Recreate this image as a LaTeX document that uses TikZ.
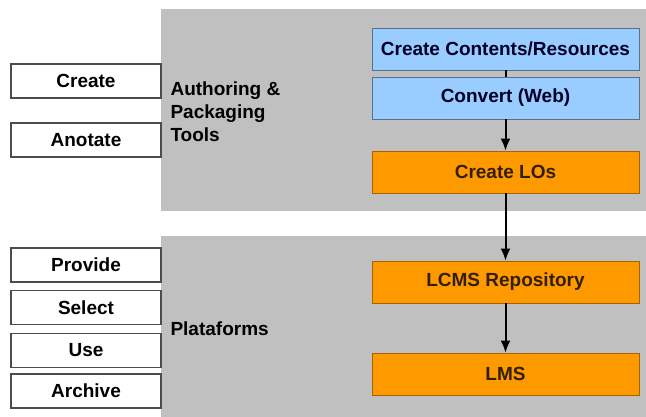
\documentclass[tikz,border=0pt]{standalone}
\usepackage{fontspec}
\setmainfont{Liberation Sans}
\usetikzlibrary{arrows.meta,positioning}
\tikzset{>=latex}
\definecolor{panelgray}{RGB}{192,192,192}
\definecolor{stepblue}{RGB}{153,204,255}
\definecolor{steporange}{RGB}{255,153,0}
\newcommand{\labfont}{\fontsize{19}{23}\selectfont\bfseries}
\tikzset{
  % boxes on the left
  actbox/.style={draw=black!70, line width=1.5pt, fill=white, minimum width=150pt, minimum height=34pt, inner sep=0pt, font=\labfont},
  % boxes of the process chain
  bluebox/.style={draw=black!45!stepblue, line width=0.8pt, fill=stepblue, minimum width=267pt, minimum height=42pt, inner sep=0pt, font=\labfont, text=black!85!blue},
  orangebox/.style={draw=black!35!steporange, line width=0.8pt, fill=steporange, minimum width=267pt, minimum height=42pt, inner sep=0pt, font=\labfont, text=black!80!steporange},
  flow/.style={-{Latex[length=12pt,width=10pt]}, line width=2pt},
}

\begin{document}
\begin{tikzpicture}[x=1pt, y=-1pt]
                \useasboundingbox (0,0) rectangle (646,417);

                \fill[panelgray] (161,9) rectangle (646,211);
                \fill[panelgray] (161,236) rectangle (646,417);

                \node[actbox] (create) at (86,81) {Create};
                \node[actbox] (anotate) at (86,140) {Anotate};
                \node[actbox] (provide) at (86,265) {Provide};
                \node[actbox] (select) at (86,307.5) {Select};
                \node[actbox] (use) at (86,350.5) {Use};
                \node[actbox] (archive) at (86,391) {Archive};

                \node[anchor=west, align=left, font=\labfont] (authoring) at (167,112) {Authoring \&\\Packaging\\Tools};
                \node[anchor=west, font=\labfont] (plataforms) at (167,329) {Plataforms};

                \node[bluebox] (contents) at (505.5,49) {Create Contents/Resources};
                \node[bluebox] (convert) at (505.5,98) {Convert (Web)};
                \node[orangebox] (los) at (505.5,172) {Create LOs};
                \node[orangebox] (lcms) at (505.5,282) {LCMS Repository};
                \node[orangebox] (lms) at (505.5,374) {LMS};

                \draw[line width=2pt] (contents) -- (convert);
                \draw[flow] (convert) -- (los);
                \draw[flow] (los) -- (lcms);
                \draw[flow] (lcms) -- (lms);
            \end{tikzpicture}
\end{document}
